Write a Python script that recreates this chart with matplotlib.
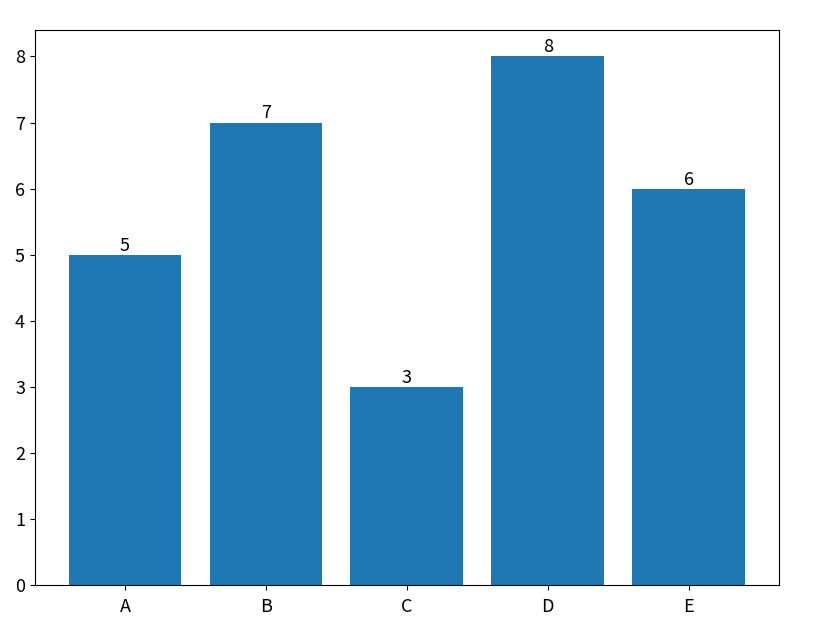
import matplotlib
matplotlib.use("Agg")
import matplotlib.pyplot as plt

plt.rcParams['font.family'] = ['Liberation Sans Narrow', 'Noto Sans CJK SC', 'DejaVu Sans']
plt.rcParams['axes.unicode_minus'] = False

categories = ['A', 'B', 'C', 'D', 'E']
values = [5, 7, 3, 8, 6]

fig = plt.figure(figsize=(8.27, 6.25), dpi=100)
ax = fig.add_axes([0.042, 0.064, 0.900, 0.888])

bars = ax.bar(categories, values, color='#1f77b4')
for bar, v in zip(bars, values):
    ax.text(bar.get_x() + bar.get_width() / 2, bar.get_height(), str(v),
            ha='center', va='bottom', fontsize=13)

ax.tick_params(labelsize=13)
ax.tick_params(axis='x', pad=6)

fig.savefig('out.png', dpi=100)
